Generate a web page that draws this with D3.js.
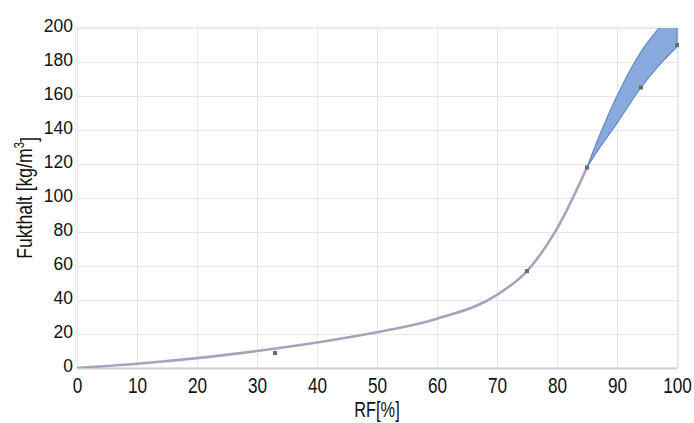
<!DOCTYPE html>
<html>
<head>
<meta charset="utf-8">
<script src="https://cdn.jsdelivr.net/npm/d3@7/dist/d3.min.js"></script>
<style>
  html, body { margin: 0; padding: 0; background: #ffffff; }
  svg { display: block; }
  text { font-family: "Liberation Sans", Arial, sans-serif; }
</style>
</head>
<body>
<svg id="chart" width="694" height="423"></svg>
<script>
// ---- data ----
const xTicks = [0, 10, 20, 30, 40, 50, 60, 70, 80, 90, 100];
const yTicks = [0, 20, 40, 60, 80, 100, 120, 140, 160, 180, 200];
const curveRF = [0, 10, 20, 30, 40, 50, 60, 70, 75, 80, 85];
const curveVal = [0, 2.5, 5.8, 10, 15, 21, 29, 43, 57, 82, 118];
const bandRF = [85, 87, 90, 94, 97, 100];
const bandUpper = [118, 136, 160, 186, 200, 212];
const bandLower = [118, 129, 144, 165, 178, 189];
const markerRF = [33, 75, 85, 94, 100];
const markerVal = [8.8, 57, 118, 165, 190];
const xTitle = "RF[%]";
const yTitle = "Fukthalt [kg/m";

// ---- layout ----
const svg = d3.select("#chart");
const x = d3.scaleLinear().domain([0, 100]).range([77, 677]);
const y = d3.scaleLinear().domain([0, 200]).range([368, 28]);
const condense = 0.8;

svg.append("defs").append("clipPath").attr("id", "plot")
  .append("rect").attr("x", x(0)).attr("y", y(200)).attr("width", x(100) - x(0) + 3).attr("height", y(0) - y(200));

// plot border
svg.append("rect").attr("x", x(0) - 1.5).attr("y", y(200) - 1)
  .attr("width", x(100) - x(0) + 3).attr("height", y(0) - y(200) + 1)
  .attr("fill", "none").attr("stroke", "#ececec").attr("stroke-width", 1);

// grid
const grid = svg.append("g");
grid.selectAll("line.v").data(xTicks).join("line")
  .attr("x1", d => x(d) + 0.5).attr("x2", d => x(d) + 0.5)
  .attr("y1", y(200)).attr("y2", y(0))
  .attr("stroke", "#e6e6e6").attr("stroke-width", 1);
grid.selectAll("line.h").data(yTicks).join("line")
  .attr("x1", x(0)).attr("x2", x(100))
  .attr("y1", d => y(d) + 0.5).attr("y2", d => y(d) + 0.5)
  .attr("stroke", d => d === 0 ? "#cfcfcf" : "#e6e6e6").attr("stroke-width", d => d === 0 ? 2 : 1);

// x axis labels (condensed)
const xAxis = d3.axisBottom(x).tickValues(xTicks).tickSize(0).tickPadding(10);
const gx = svg.append("g").attr("transform", `translate(0,${y(0)})`).call(xAxis);
gx.select(".domain").remove();
gx.selectAll("text").attr("font-size", 21.5).attr("fill", "#111")
  .attr("font-family", "Liberation Sans, Arial, sans-serif")
  .attr("dy", "0.71em").attr("transform", `scale(${condense},1)`);

// y axis labels
const yAxis = d3.axisLeft(y).tickValues(yTicks).tickSize(0).tickPadding(4);
const gy = svg.append("g").attr("transform", `translate(${x(0)},0)`).call(yAxis);
gy.select(".domain").remove();
gy.selectAll("text").attr("font-size", 17.5).attr("fill", "#111")
  .attr("font-family", "Liberation Sans, Arial, sans-serif")
  .attr("dy", "0.2em");

// titles
svg.append("text")
  .attr("transform", `translate(${(x(0) + x(100)) / 2},417) scale(0.76,1)`)
  .attr("text-anchor", "middle").attr("font-size", 21.5).attr("fill", "#111").text(xTitle);

const yt = svg.append("text")
  .attr("transform", `translate(32,${(y(0) + y(200)) / 2}) rotate(-90) scale(0.8,1)`)
  .attr("text-anchor", "middle").attr("font-size", 22).attr("fill", "#111");
yt.append("tspan").text(yTitle);
yt.append("tspan").attr("font-size", 14).attr("dy", "-0.55em").text("3");
yt.append("tspan").attr("dy", "0.55em").text("]");

// band
const plot = svg.append("g").attr("clip-path", "url(#plot)");
const bandData = bandRF.map((r, i) => ({ r, u: bandUpper[i], l: bandLower[i] }));
plot.append("path").datum(bandData)
  .attr("d", d3.area().x(d => x(d.r)).y0(d => y(d.l)).y1(d => y(d.u)).curve(d3.curveMonotoneX))
  .attr("fill", "#88aadd").attr("stroke", "#6688c0").attr("stroke-width", 1.2);

// main curve
const curveData = curveRF.map((r, i) => ({ r, v: curveVal[i] }));
plot.append("path").datum(curveData)
  .attr("d", d3.line().x(d => x(d.r)).y(d => y(d.v)).curve(d3.curveMonotoneX))
  .attr("fill", "none").attr("stroke", "#a4a4bc").attr("stroke-width", 2.6);

// markers
const mk = markerRF.map((r, i) => ({ r, v: markerVal[i] }));
svg.append("g").selectAll("rect").data(mk).join("rect")
  .attr("x", d => x(d.r) - 2).attr("y", d => y(d.v) - 2)
  .attr("width", 4).attr("height", 4).attr("fill", "#6b6b6b");
</script>
</body>
</html>
